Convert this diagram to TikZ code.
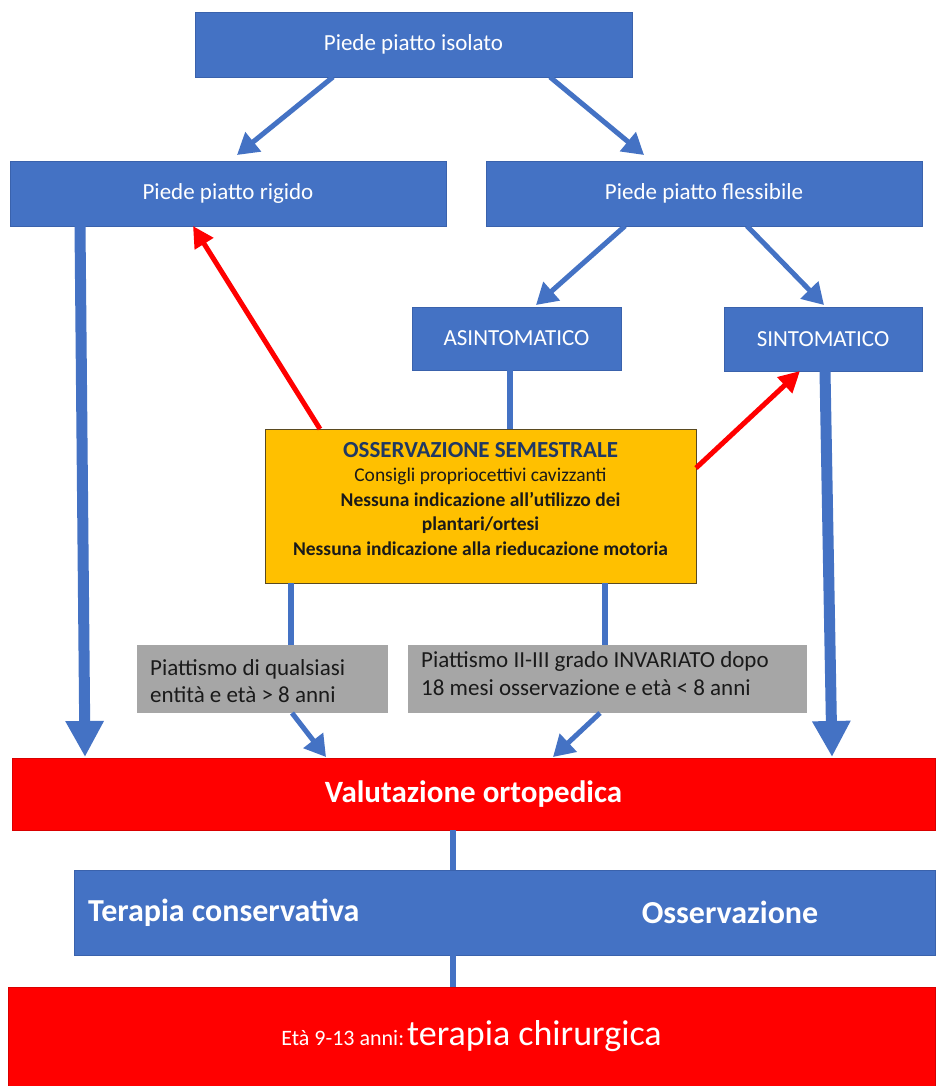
\documentclass[tikz,border=0pt]{standalone}
\usepackage{fontspec}
\setmainfont{Carlito}
\usetikzlibrary{arrows.meta}

\definecolor{boxblue}{HTML}{4472C4}
\definecolor{edgeblue}{HTML}{3A62AC}
\definecolor{boxred}{HTML}{FF0000}
\definecolor{edgered}{HTML}{C00000}
\definecolor{boxorange}{HTML}{FFC000}
\definecolor{edgeorange}{HTML}{5A4A20}
\definecolor{boxgrey}{HTML}{A6A6A6}
\definecolor{navy}{HTML}{1F3864}
\definecolor{inkdark}{HTML}{1A1A1A}

\tikzset{
  box/.style={inner sep=0pt, outer sep=0pt, align=center},
  bluebox/.style={box, draw=edgeblue, line width=0.7pt, fill=boxblue, text=white,
    font=\fontsize{23}{28}\selectfont},
  redbox/.style={box, draw=edgered!60!boxred, line width=0.7pt, fill=boxred, text=white},
  orangebox/.style={box, draw=edgeorange, line width=0.8pt, fill=boxorange},
  greybox/.style={box, fill=boxgrey},
  greytext/.style={inner sep=0pt, anchor=base west, text=inkdark,
    font=\fontsize{23}{28}\selectfont},
  thinarrow/.style={draw=boxblue, line width=5pt, -{Triangle[length=21pt,width=24pt]}},
  bigarrow/.style={draw=boxblue, line width=11pt, -{Triangle[length=36pt,width=36pt]}},
  redarrow/.style={draw=boxred, line width=5pt, -{Triangle[length=21pt,width=21pt]}},
  link/.style={draw=boxblue, line width=5.5pt},
}

\begin{document}
\begin{tikzpicture}[x=1pt,y=-1pt]
  \useasboundingbox[fill=white] (0,0) rectangle (935,1086);

  % flow boxes
  \node[bluebox, minimum width=437pt, minimum height=65pt] (iso) at (413.5,44.5) {Piede piatto isolato};
  \node[bluebox, minimum width=436pt, minimum height=65pt] (rig) at (228,193.5) {Piede piatto rigido};
  \node[bluebox, minimum width=436pt, minimum height=65pt] (fle) at (704,193.5) {Piede piatto flessibile};
  \node[bluebox, minimum width=209pt, minimum height=63pt] (asi) at (516.5,338.5) {ASINTOMATICO};
  \node[bluebox, minimum width=198pt, minimum height=64pt] (sin) at (823,339) {SINTOMATICO};

  % semestral observation
  \node[orangebox, minimum width=431pt, minimum height=154pt] (oss) at (480.5,506) {};
  \node[inner sep=0pt, align=center, text=inkdark, font=\fontsize{19.5}{24.5}\selectfont,
        anchor=north] (osst) at (480.5,442)
    {{\fontsize{23}{24.5}\selectfont\bfseries\color{navy}OSSERVAZIONE SEMESTRALE}\\
     Consigli propriocettivi cavizzanti\\
     \textbf{Nessuna indicazione all’utilizzo dei}\\
     \textbf{plantari/ortesi}\\
     \textbf{Nessuna indicazione alla rieducazione motoria}};

  % criteria
  \node[greybox, minimum width=251pt, minimum height=68pt] (g1) at (262.5,679) {};
  \node[greybox, minimum width=399pt, minimum height=68pt] (g2) at (607.5,679) {};
  \node[greytext] (g1a) at (150,675) {Piattismo di qualsiasi};
  \node[greytext] (g1b) at (150,702) {entità e età > 8 anni};
  \node[greytext] (g2a) at (421,667) {Piattismo II-III grado INVARIATO dopo};
  \node[greytext] (g2b) at (421,695) {18 mesi osservazione e età < 8 anni};

  % orthopaedic path
  \node[redbox, minimum width=923pt, minimum height=72pt,
        font=\fontsize{31}{35}\selectfont\bfseries] (val) at (473.5,794) {Valutazione ortopedica};
  \node[bluebox, minimum width=861pt, minimum height=85pt] (ter) at (504.5,912.5) {};
  \node[inner sep=0pt, anchor=west, text=white, font=\fontsize{32}{36}\selectfont\bfseries]
    (terc) at (88,912.5) {Terapia conservativa};
  \node[inner sep=0pt, text=white, font=\fontsize{32}{36}\selectfont\bfseries]
    (tero) at (730,912.5) {Osservazione};
  \node[redbox, minimum width=927pt, minimum height=99pt] (chi) at (471.5,1036.5)
    {{\fontsize{22}{26}\selectfont Età 9-13 anni:} {\fontsize{36}{40}\selectfont terapia chirurgica}};

  % connectors
  \draw[thinarrow] ([xshift=-80.5pt]iso.south) -- ([xshift=9pt,yshift=6pt]rig.north);
  \draw[thinarrow] ([xshift=136.5pt]iso.south) -- ([xshift=-60pt,yshift=6pt]fle.north);
  \draw[thinarrow] ([xshift=-79pt]fle.south) -- ([xshift=19.5pt,yshift=2pt]asi.north);
  \draw[thinarrow] ([xshift=43pt]fle.south) -- ([xshift=1pt,yshift=2pt]sin.north);

  \draw[link] ([xshift=-6.5pt]asi.south) -- ([xshift=29.5pt]oss.north);
  \draw[redarrow] ([xshift=-160.5pt]oss.north) -- ([xshift=-35pt]rig.south);
  \draw[redarrow] ([yshift=38pt]oss.east) -- ([xshift=-23pt]sin.south);

  \draw[bigarrow] ([xshift=-148pt]rig.south) -- ([xshift=-388.5pt,yshift=1pt]val.north);
  \draw[bigarrow] ([xshift=2pt]sin.south) -- ([xshift=358.5pt,yshift=1pt]val.north);

  \draw[link] ([xshift=-189.5pt]oss.south) -- ([xshift=28.5pt]g1.north);
  \draw[link] ([xshift=124.5pt]oss.south) -- ([xshift=-2.5pt]g2.north);
  \draw[thinarrow] ([xshift=29.5pt]g1.south) -- ([xshift=-147.5pt,yshift=1pt]val.north);
  \draw[thinarrow] ([xshift=-7.5pt]g2.south) -- ([xshift=79.5pt,yshift=1pt]val.north);

  \draw[link] ([xshift=-20.5pt]val.south) -- ([xshift=-51.5pt]ter.north);
  \draw[link] ([xshift=-51.5pt]ter.south) -- ([xshift=-18.5pt]chi.north);
\end{tikzpicture}
\end{document}
